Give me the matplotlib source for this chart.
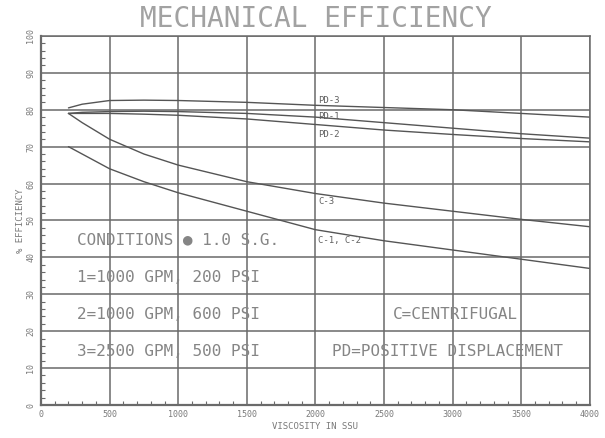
import matplotlib
matplotlib.use("Agg")
import matplotlib.pyplot as plt
from matplotlib.ticker import MultipleLocator

# ---- data ----
visc = [200, 300, 500, 750, 1000, 1500, 2000, 2500, 3000, 3500, 4000]
pd3 = [80.5, 81.5, 82.5, 82.6, 82.5, 82.0, 81.2, 80.6, 80.0, 79.0, 78.0]
pd1 = [79.0, 79.3, 79.5, 79.6, 79.5, 79.0, 78.0, 76.5, 75.0, 73.5, 72.3]
pd2 = [79.0, 79.0, 79.0, 78.8, 78.5, 77.5, 76.0, 74.5, 73.3, 72.2, 71.3]
c3 = [79.0, 76.5, 72.0, 68.0, 65.0, 60.5, 57.3, 54.7, 52.5, 50.3, 48.3]
c12 = [70.0, 68.0, 64.0, 60.5, 57.5, 52.5, 47.5, 44.5, 42.0, 39.5, 37.0]

x_ticks = [0, 500, 1000, 1500, 2000, 2500, 3000, 3500, 4000]
y_ticks = [0, 10, 20, 30, 40, 50, 60, 70, 80, 90, 100]

curve_labels = [("PD-3", 2020, 82.6), ("PD-1", 2020, 78.3), ("PD-2", 2020, 73.4),
                ("C-3", 2020, 55.2), ("C-1, C-2", 2020, 44.6)]

notes = [("CONDITIONS \u25CF 1.0 S.G.", 260, 44.7),
         ("1=1000 GPM, 200 PSI", 260, 34.6),
         ("2=1000 GPM, 600 PSI", 260, 24.6),
         ("3=2500 GPM, 500 PSI", 260, 14.6),
         ("C=CENTRIFUGAL", 2565, 24.6),
         ("PD=POSITIVE DISPLACEMENT", 2120, 14.6)]

# ---- style ----
mono = ["DejaVu Sans Mono"]
txt_col = "#858585"
line_col = "#555555"
grid_col = "#6a6a6a"

fig = plt.figure(figsize=(6.05, 4.38), dpi=100)
ax = fig.add_axes([0.0678, 0.0753, 0.9072, 0.8427])

for ys in (pd3, pd1, pd2, c3, c12):
    ax.plot(visc, ys, color=line_col, lw=1.0, solid_capstyle="round")

ax.set_xlim(0, 4000)
ax.set_ylim(0, 100)
ax.set_xticks(x_ticks)
ax.set_yticks(y_ticks)
ax.xaxis.set_minor_locator(MultipleLocator(100))
ax.yaxis.set_minor_locator(MultipleLocator(2))
ax.grid(True, which="major", color=grid_col, lw=1.1)
ax.tick_params(which="major", direction="in", length=0, colors="#7a7a7a",
               labelsize=6)
ax.tick_params(which="minor", direction="in", length=3, color=grid_col, width=0.8)
ax.tick_params(axis="y", labelrotation=90, pad=4)
for lab in ax.get_xticklabels() + ax.get_yticklabels():
    lab.set_family(mono)
for lab in ax.get_yticklabels():
    lab.set_va("center")

for s in ax.spines.values():
    s.set_color(grid_col)
    s.set_linewidth(1.1)
ax.spines["left"].set_linewidth(1.6)
ax.spines["bottom"].set_linewidth(1.6)

ax.set_xlabel("VISCOSITY IN SSU", family=mono, fontsize=6.5, color="#7a7a7a",
              labelpad=2)
ax.set_ylabel("% EFFICIENCY", family=mono, fontsize=6.5, color="#7a7a7a",
              labelpad=1)

fig.text(0.522, 0.957, "MECHANICAL EFFICIENCY", family=mono, fontsize=20,
         color="#a2a2a2", ha="center", va="center")

for t, x, y in curve_labels:
    ax.text(x, y, t, family=mono, fontsize=6.5, color="#606060",
            ha="left", va="center")

for t, x, y in notes:
    ax.text(x, y, t, family=["DejaVu Sans Mono", "DejaVu Sans"], fontsize=11.5,
            color=txt_col, ha="left", va="center")

fig.savefig("out.png", dpi=100)
